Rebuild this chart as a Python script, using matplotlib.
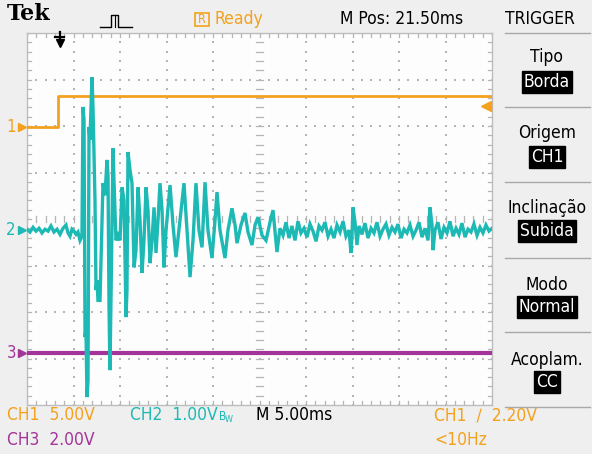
import matplotlib
matplotlib.use("Agg")
import matplotlib.pyplot as plt
import numpy as np
from matplotlib.patches import Rectangle
from matplotlib import font_manager as fm

# ---------------- data ----------------
# horizontal: 5 ms/div, 10 div on screen
time_per_div_ms = 5.0
# channel scales (V/div) and ground positions (div from bottom)
ch1_scale, ch1_ground = 5.0, 5.98
ch2_scale, ch2_ground = 1.0, 3.76
ch3_scale, ch3_ground = 2.0, 1.12
trig_level_v = 2.20
trig_pos_ms = 3.5

ch1_t = [0.0, 3.38, 3.38, 50.0]
ch1_v = [0.0, 0.0, 3.33, 3.33]

ch3_t = [0.0, 50.0]
ch3_v = [0.0, 0.0]

ch2_t = [0.00, 0.32, 0.65, 0.97, 1.29, 1.61, 1.94, 2.26, 2.58, 2.90, 3.23, 3.55, 3.87, 4.19, 4.41,
         4.62, 4.84, 5.05, 5.27, 5.48, 5.70, 5.91,
         6.02, 6.13, 6.24, 6.34, 6.45, 6.56, 6.67, 6.77, 6.99, 7.10, 7.20, 7.31, 7.42, 7.53, 7.63,
         7.85, 7.96, 8.17, 8.39, 8.60, 8.71, 8.82, 8.92, 9.03, 9.25, 9.35, 9.57, 9.78, 10.00, 10.22,
         10.43, 10.65, 10.75, 10.86, 11.08, 11.29, 11.51, 11.72, 11.94, 12.15, 12.37, 12.58, 12.80,
         13.01, 13.23, 13.44, 13.66, 13.87, 14.09, 14.30, 14.52, 14.73, 14.95, 15.38, 15.70, 16.02,
         16.45, 16.88, 17.20, 17.53, 17.85, 18.17, 18.49, 18.82, 19.14, 19.46, 19.89, 20.22, 20.43,
         20.75, 21.29, 21.61, 22.04, 22.37, 22.58, 23.01, 23.44, 23.76, 24.19, 24.52, 24.84, 25.27,
         25.70, 26.13, 26.45, 26.88, 27.20,
         27.53, 27.85, 28.17, 28.49, 28.82, 29.14, 29.46, 29.78, 30.11, 30.43, 30.75, 31.08, 31.40,
         31.72, 32.04, 32.37, 32.69, 33.01, 33.33, 33.66, 33.98, 34.30, 34.62, 34.84, 34.95, 35.05,
         35.27, 35.48, 35.70, 36.02, 36.34, 36.67, 36.99, 37.31, 37.63, 37.96, 38.28, 38.60, 38.92,
         39.25, 39.57, 39.89, 40.22, 40.54, 40.86, 41.18, 41.51, 41.83, 42.15, 42.47, 42.80, 43.12,
         43.33, 43.55, 43.66, 43.87, 44.19, 44.52, 44.84, 45.16, 45.48, 45.81, 46.13, 46.45, 46.77,
         47.10, 47.42, 47.74, 48.06, 48.39, 48.71, 49.03, 49.35, 49.68, 50.00]
ch2_v = [0.02, -0.04, 0.06, -0.02, 0.04, -0.06, 0.02, -0.02, 0.09, -0.04, 0.02, -0.09, 0.04, 0.11, -0.06,
         -0.13, 0.02, -0.02, -0.09, -0.04, -0.22, -0.13,
         2.65, 2.37, -2.30, -2.15, -3.59, -3.23, 2.22, 1.94, 3.29, 2.62, 1.72, 0.65, -1.29, -1.08, -1.51,
         -1.51, -0.65, 1.01, 0.75, 1.51, 1.18, -1.66, -3.01, -1.51, 1.76, 1.08, -0.22, -0.11, -0.22, 0.92,
         0.65, -1.87, -1.29, 1.68, 1.29, 1.01, -0.80, -0.43, 0.92, 0.22, -0.92, -0.22, 0.92,
         0.43, -0.71, -0.22, 0.49, -0.49, 0.22, 1.01, 0.43, -0.80, 0.00, 0.97, 0.11, -0.58,
         0.22, 1.01, 0.00, -1.01, -0.22, 1.01, 0.00, -0.37, 1.03, 0.00, -0.60, 0.22, 0.82,
         0.00, -0.60, 0.00, 0.47, 0.11, -0.28, 0.11, 0.37, -0.04, -0.32, 0.11, 0.28, -0.11,
         -0.22, 0.17, 0.43, -0.47, 0.04,
         -0.11, 0.17, -0.17, 0.09, -0.22, 0.19, -0.06, 0.04, -0.15, 0.13, -0.02, -0.24, 0.09,
         0.00, 0.17, -0.13, 0.02, -0.17, 0.11, -0.04, 0.19, -0.13, 0.00, -0.49, -0.11, 0.49,
         0.17, -0.32, 0.09, -0.09, 0.15, -0.17, 0.04, -0.06, 0.17, -0.13, 0.02, 0.13, -0.11,
         0.06, -0.04, 0.13, -0.17, 0.02, -0.06, 0.11, -0.13, 0.00, 0.17, -0.15, 0.04, -0.22,
         0.49, 0.11, -0.43, 0.00, 0.17, -0.19, 0.06, -0.06, 0.19, -0.13, 0.04, -0.09, 0.15,
         -0.15, 0.02, -0.04, 0.13, -0.11, 0.06, -0.06, 0.11, -0.02, 0.04]

# ---------------- style ----------------
ORANGE = "#F4A11E"
TEAL = "#1DB9B4"
PURPLE = "#A3359A"
W, H = 592, 454

# pick a condensed sans if one is installed
_cands = [f for f in fm.fontManager.ttflist
          if f.stretch in ("condensed", "semi-condensed", "extra-condensed")
          or "Condensed" in f.name or "Narrow" in f.name]
NARROW_FAMILY = _cands[0].name if _cands else "DejaVu Sans"
NARROW = [NARROW_FAMILY, "DejaVu Sans"]
STRETCH = _cands[0].stretch if _cands else "normal"
FS = 12.5 if _cands else 11.0

fig = plt.figure(figsize=(W / 100, H / 100), dpi=100, facecolor="#EFEFEF")


def fx(px):
    return px / W


def fy(py):
    return 1 - py / H


def txt(x, y, s, color="black", size=None, ha="left", **kw):
    return fig.text(fx(x), fy(y), s, fontsize=size or FS, color=color, ha=ha, va="center",
                    family=NARROW, fontstretch=STRETCH, **kw)


# screen axes
L, R, T, B = 27, 492, 33, 405
ax = fig.add_axes([fx(L), fy(B), (R - L) / W, (B - T) / H])
ax.set_facecolor("#FDFDFD")
ax.set_xlim(0, 10)
ax.set_ylim(0, 8)
ax.set_xticks([])
ax.set_yticks([])
for s in ax.spines.values():
    s.set_color("#BDBDBD")
    s.set_linewidth(1.0)

# grid dots
gc = "#B5B5B5"
sub = np.arange(0, 10.001, 0.2)
subv = np.arange(0, 8.001, 0.2)
for i in range(1, 10):
    if i == 5:
        continue
    ax.scatter(np.full(subv.size, i), subv, s=1.6, c=gc, marker="s", lw=0, zorder=1)
for j in range(1, 8):
    if j == 4:
        continue
    ax.scatter(sub, np.full(sub.size, j), s=1.6, c=gc, marker="s", lw=0, zorder=1)
# centre cross ticks
for yv in subv:
    ax.plot([4.93, 5.07], [yv, yv], color=gc, lw=0.9, zorder=1)
for xv in sub:
    ax.plot([xv, xv], [3.93, 4.07], color=gc, lw=0.9, zorder=1)
# edge ticks
for xv in sub:
    ax.plot([xv, xv], [0, 0.09], color=gc, lw=0.9, zorder=1)
    ax.plot([xv, xv], [8, 7.91], color=gc, lw=0.9, zorder=1)
for yv in subv:
    ax.plot([0, 0.09], [yv, yv], color=gc, lw=0.9, zorder=1)
    ax.plot([10, 9.91], [yv, yv], color=gc, lw=0.9, zorder=1)

# traces
t1 = np.array(ch1_t) / time_per_div_ms
ax.plot(t1, ch1_ground + np.array(ch1_v) / ch1_scale, color=ORANGE, lw=2.0, zorder=3)
t3 = np.array(ch3_t) / time_per_div_ms
ax.plot(t3, ch3_ground + np.array(ch3_v) / ch3_scale, color=PURPLE, lw=3.0, zorder=3)
t2 = np.array(ch2_t) / time_per_div_ms
ax.plot(t2, ch2_ground + np.array(ch2_v) / ch2_scale, color=TEAL, lw=2.4, zorder=4,
        solid_joinstyle="miter")

# markers on screen edges
for g, c, lab in [(ch1_ground, ORANGE, "1"), (ch2_ground, TEAL, "2"), (ch3_ground, PURPLE, "3")]:
    ax.plot([-0.11], [g], marker=">", ms=6, color=c, clip_on=False)
    ax.text(-0.24, g, lab, color=c, ha="right", va="center", fontsize=12, family=NARROW,
            fontstretch=STRETCH)
trig_y = ch1_ground + trig_level_v / ch1_scale
ax.plot([9.88], [trig_y], marker="<", ms=7, color=ORANGE, clip_on=False, zorder=5)
ax.plot([9.88, 9.99], [trig_y, trig_y], color=ORANGE, lw=2, zorder=5)
tp = trig_pos_ms / time_per_div_ms
ax.plot([tp], [7.78], marker="v", ms=6, color="black", clip_on=False, zorder=6)
ax.plot([tp - 0.1, tp + 0.1], [7.92, 7.92], color="black", lw=1.6, zorder=6)
ax.plot([tp, tp], [7.78, 8.02], color="black", lw=1.6, zorder=6, clip_on=False)

# ---------------- header ----------------
fig.text(fx(7), fy(14), "Tek", fontsize=16, fontweight="bold", family="DejaVu Serif",
         va="center", ha="left", color="black")
# pulse icon
px_icon = [100, 111, 111, 118, 118, 132]
py_icon = [27, 27, 15, 15, 27, 27]
fig.add_artist(plt.Line2D([fx(p) for p in px_icon], [fy(p) for p in py_icon],
                          color="black", lw=1.0, ls="-"))
fig.add_artist(plt.Line2D([fx(114.5), fx(114.5)], [fy(15), fy(27)], color="black", lw=0.8))
fig.add_artist(Rectangle((fx(195), fy(26)), 14 / W, 13 / H, fill=False, ec=ORANGE, lw=1.2))
txt(202, 19.5, "R", ORANGE, size=9, ha="center")
txt(215, 19, "Ready", ORANGE)
txt(340, 19, "M Pos: 21.50ms")
txt(505, 19, "TRIGGER")

# ---------------- right menu ----------------
for yy in [33, 107, 182, 258, 332, 407]:
    fig.add_artist(plt.Line2D([fx(505), fx(590)], [fy(yy), fy(yy)], color="#A8A8A8", lw=1.0))
menu = [("Tipo", "Borda", 57, 82), ("Origem", "CH1", 133, 157), ("Inclinação", "Subida", 208, 231),
        ("Modo", "Normal", 285, 307), ("Acoplam.", "CC", 360, 382)]
for title, val, y1, y2 in menu:
    txt(547, y1, title, ha="center")
    txt(547, y2, val, "white", ha="center",
        bbox=dict(boxstyle="square,pad=0.1", fc="black", ec="black"))

# ---------------- bottom status ----------------
txt(7, 415, "CH1  5.00V", ORANGE)
ch2txt = txt(130, 415, "CH2  1.00V", TEAL)
txt(256, 415, "M 5.00ms")
txt(434, 415, "CH1  \u2215  2.20V", ORANGE)
txt(7, 440, "CH3  2.00V", PURPLE)
txt(434, 440, "<10Hz", ORANGE)
# bandwidth-limit mark right after the CH2 volts/div
renderer = fig.canvas.get_renderer()
bb = ch2txt.get_window_extent(renderer)
x_end = bb.x1 + 1
fig.text(x_end / W, fy(416), "B", fontsize=8.5, color=TEAL, ha="left", va="center",
         family=NARROW, fontstretch=STRETCH)
fig.text((x_end + 6) / W, fy(420), "W", fontsize=6.5, color=TEAL, ha="left", va="center",
         family=NARROW, fontstretch=STRETCH)

fig.savefig("out.png", dpi=100, facecolor=fig.get_facecolor())
